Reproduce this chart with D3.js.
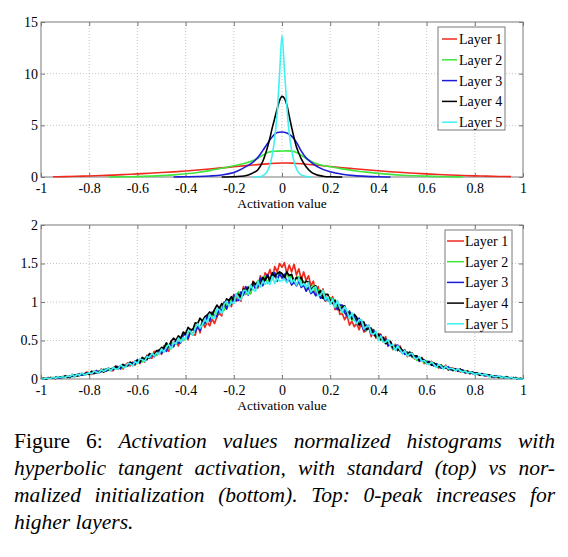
<!DOCTYPE html>
<html>
<head>
<meta charset="utf-8">
<script src="https://cdn.jsdelivr.net/npm/d3@7"></script>
<style>
  html, body { margin: 0; padding: 0; background: #fff; }
  #chart { position: absolute; left: 0; top: 0; }
  .grid { stroke: #b8b8b8; stroke-width: 0.8; stroke-dasharray: 1,2; }
  .axis text, .legend text { font-family: "Liberation Serif", "Times New Roman", Times, serif; font-size: 14px; fill: #000; }
  .label { font-family: "Liberation Serif", "Times New Roman", Times, serif; font-size: 13.5px; fill: #000; }
  .axis line { stroke: #777; }
  #caption { position: absolute; left: 14px; top: 428px; width: 541px;
    font-family: "Liberation Serif", "Times New Roman", Times, serif; font-size: 21.5px; color: #000; }
  #caption div { line-height: 27px; height: 27px; text-align: justify; text-align-last: justify; }
  #caption div.last { text-align-last: left; }
</style>
</head>
<body>
<svg id="chart" width="568" height="425"></svg>
<div id="caption"></div>
<script>
const xTicks = [-1, -0.8, -0.6, -0.4, -0.2, 0, 0.2, 0.4, 0.6, 0.8, 1];
const topYTicks = [0, 5, 10, 15];
const bottomYTicks = [0, 0.5, 1, 1.5, 2];
const layerNames = ["Layer 1", "Layer 2", "Layer 3", "Layer 4", "Layer 5"];
const layerColors = ["#ee2a1e", "#3ee63e", "#1c1cd6", "#000000", "#3ff2f2"];

// top: standard initialization, [activation, density]
const topLayer1 = [[-0.95,0.02],[-0.9,0.04],[-0.85,0.07],[-0.8,0.1],[-0.75,0.14],[-0.7,0.18],[-0.65,0.24],[-0.6,0.3],
  [-0.55,0.36],[-0.5,0.43],[-0.45,0.5],[-0.4,0.58],[-0.35,0.67],[-0.3,0.77],[-0.25,0.88],[-0.2,0.99],[-0.15,1.1],
  [-0.1,1.2],[-0.05,1.29],[-0.025,1.33],[0,1.35],[0.025,1.36],[0.05,1.33],[0.1,1.24],[0.15,1.13],[0.2,1.02],[0.25,0.9],
  [0.3,0.8],[0.35,0.7],[0.4,0.6],[0.45,0.51],[0.5,0.43],[0.55,0.36],[0.6,0.3],[0.65,0.24],[0.7,0.19],[0.75,0.15],
  [0.8,0.11],[0.85,0.08],[0.9,0.05],[0.95,0.04]];
const topLayer2 = [[-0.72,0],[-0.65,0.02],[-0.6,0.04],[-0.55,0.08],[-0.5,0.13],[-0.45,0.21],[-0.4,0.31],[-0.35,0.44],
  [-0.3,0.62],[-0.25,0.84],[-0.2,1.08],[-0.15,1.36],[-0.12,1.6],[-0.1,1.82],[-0.08,2.1],[-0.06,2.37],[-0.04,2.48],
  [-0.02,2.5],[0,2.52],[0.02,2.53],[0.04,2.5],[0.06,2.38],[0.08,2.1],[0.1,1.8],[0.12,1.52],[0.15,1.24],[0.2,0.99],
  [0.25,0.79],[0.3,0.61],[0.35,0.47],[0.4,0.35],[0.45,0.25],[0.5,0.17],[0.55,0.12],[0.6,0.08],[0.65,0.05],[0.7,0.02],[0.75,0]];
const topLayer3 = [[-0.45,0],[-0.4,0.02],[-0.35,0.05],[-0.3,0.1],[-0.25,0.2],[-0.2,0.43],[-0.15,1.0],[-0.12,1.45],
  [-0.1,1.9],[-0.08,2.55],[-0.06,3.25],[-0.04,3.9],[-0.02,4.3],[0,4.35],[0.02,4.25],[0.04,3.95],[0.06,3.35],[0.08,2.5],
  [0.1,1.85],[0.12,1.45],[0.15,0.95],[0.2,0.5],[0.25,0.26],[0.3,0.13],[0.35,0.06],[0.4,0.02],[0.45,0]];
const topLayer4 = [[-0.25,0],[-0.2,0.02],[-0.17,0.07],[-0.14,0.2],[-0.12,0.4],[-0.1,0.7],[-0.08,1.5],[-0.06,2.9],
  [-0.05,3.8],[-0.04,4.8],[-0.03,5.7],[-0.02,6.6],[-0.01,7.4],[0,7.8],[0.01,7.6],[0.02,7.0],[0.03,5.9],[0.04,4.8],
  [0.05,3.8],[0.06,2.9],[0.07,2.3],[0.08,1.75],[0.1,1.0],[0.12,0.5],[0.14,0.25],[0.17,0.08],[0.2,0.02],[0.25,0]];
const topLayer5 = [[-0.12,0],[-0.1,0.02],[-0.08,0.1],[-0.07,0.3],[-0.06,0.6],[-0.05,1.2],[-0.04,2.2],[-0.03,3.8],
  [-0.02,6.2],[-0.01,10.0],[0,13.7],[0.01,10.4],[0.02,6.9],[0.03,4.2],[0.04,2.6],[0.05,1.5],[0.06,0.8],[0.07,0.4],
  [0.08,0.2],[0.1,0.05],[0.12,0]];

// bottom: normalized initialization, one value per bin of 0.01 from -1 to 1 (201 bins)
const bins = d3.range(201).map(i => -1 + i * 0.01);
const bottomLayer1 = [
  0.00,0.01,0.00,0.02,0.01,0.02,0.00,0.03,0.02,0.03,
  0.02,0.04,0.02,0.06,0.04,0.04,0.07,0.05,0.07,0.09,
  0.08,0.06,0.10,0.09,0.08,0.13,0.09,0.12,0.14,0.11,
  0.11,0.17,0.14,0.17,0.13,0.18,0.21,0.17,0.22,0.18,
  0.25,0.20,0.27,0.22,0.31,0.28,0.27,0.36,0.31,0.38,
  0.32,0.43,0.38,0.36,0.49,0.42,0.51,0.43,0.53,0.58,
  0.61,0.51,0.63,0.58,0.57,0.72,0.60,0.74,0.67,0.74,
  0.69,0.78,0.72,0.81,0.86,0.82,0.98,0.91,1.01,0.94,
  1.10,1.01,1.13,1.01,1.20,1.10,1.20,1.11,1.27,1.23,
  1.18,1.34,1.24,1.38,1.33,1.42,1.30,1.46,1.39,1.50,
  1.45,
  1.51,1.37,1.48,1.39,1.49,1.35,1.43,1.29,1.39,1.28,
  1.34,1.21,1.27,1.11,1.20,1.06,1.17,1.01,1.09,1.00,
  1.07,0.90,0.99,0.84,0.85,0.77,0.83,0.70,0.75,0.68,
  0.72,0.64,0.74,0.61,0.63,0.70,0.55,0.63,0.53,0.59,
  0.58,0.48,0.55,0.43,0.48,0.38,0.45,0.38,0.43,0.33,
  0.38,0.29,0.34,0.34,0.26,0.29,0.24,0.28,0.20,0.23,
  0.19,0.23,0.18,0.20,0.14,0.18,0.14,0.18,0.12,0.14,
  0.14,0.11,0.13,0.09,0.11,0.08,0.11,0.07,0.09,0.06,
  0.08,0.05,0.07,0.05,0.04,0.05,0.03,0.04,0.03,0.02,
  0.03,0.02,0.03,0.01,0.02,0.01,0.01,0.00,0.00,0.00];
const bottomLayer2 = [
  0.00,0.01,0.00,0.01,0.02,0.01,0.01,0.03,0.02,0.02,
  0.02,0.03,0.04,0.03,0.05,0.05,0.04,0.07,0.06,0.06,
  0.07,0.10,0.07,0.10,0.09,0.09,0.13,0.11,0.11,0.13,
  0.15,0.13,0.15,0.17,0.14,0.18,0.17,0.21,0.20,0.19,
  0.21,0.25,0.22,0.27,0.29,0.27,0.33,0.31,0.31,0.38,
  0.38,0.35,0.44,0.40,0.39,0.48,0.45,0.53,0.52,0.50,
  0.52,0.62,0.59,0.57,0.69,0.69,0.65,0.77,0.71,0.79,
  0.83,0.80,0.89,0.83,0.88,0.97,0.89,0.99,0.95,1.06,
  0.99,1.08,1.13,1.04,1.13,1.10,1.20,1.11,1.23,1.22,
  1.28,1.21,1.28,1.34,1.24,1.33,1.29,1.37,1.30,1.39,
  1.35,
  1.29,1.38,1.29,1.35,1.24,1.32,1.33,1.23,1.27,1.18,
  1.25,1.16,1.22,1.13,1.16,1.06,1.15,1.06,1.01,1.06,
  0.99,1.03,0.92,0.97,0.86,0.91,0.84,0.88,0.76,0.81,
  0.80,0.71,0.77,0.67,0.63,0.68,0.61,0.64,0.55,0.53,
  0.50,0.54,0.47,0.51,0.44,0.39,0.44,0.38,0.40,0.33,
  0.37,0.32,0.35,0.28,0.30,0.24,0.28,0.24,0.21,0.24,
  0.20,0.22,0.18,0.19,0.15,0.18,0.15,0.14,0.15,0.12,
  0.13,0.11,0.12,0.10,0.10,0.11,0.08,0.08,0.09,0.06,
  0.07,0.07,0.05,0.05,0.06,0.03,0.04,0.04,0.02,0.03,
  0.03,0.02,0.02,0.02,0.01,0.01,0.01,0.01,0.00,0.00];
const bottomLayer3 = [
  0.00,0.00,0.01,0.01,0.01,0.01,0.02,0.02,0.01,0.03,
  0.03,0.02,0.04,0.04,0.03,0.06,0.06,0.05,0.06,0.08,
  0.08,0.08,0.07,0.11,0.08,0.10,0.12,0.10,0.14,0.12,
  0.12,0.16,0.16,0.13,0.18,0.17,0.17,0.21,0.21,0.19,
  0.25,0.21,0.26,0.25,0.30,0.27,0.32,0.29,0.34,0.37,
  0.33,0.40,0.36,0.44,0.44,0.42,0.51,0.47,0.47,0.56,
  0.59,0.53,0.62,0.65,0.61,0.68,0.63,0.75,0.72,0.82,
  0.75,0.87,0.82,0.81,0.92,0.88,1.00,0.91,1.00,0.97,
  1.09,1.02,1.02,1.13,1.09,1.20,1.09,1.19,1.24,1.17,
  1.20,1.31,1.21,1.30,1.36,1.26,1.34,1.38,1.27,1.37,
  1.31,
  1.36,1.26,1.30,1.22,1.26,1.21,1.27,1.19,1.22,1.14,
  1.19,1.11,1.14,1.08,1.13,1.05,1.06,1.02,1.06,0.98,
  1.04,0.94,0.90,0.96,0.96,0.86,0.82,0.88,0.80,0.82,
  0.74,0.79,0.70,0.63,0.70,0.67,0.58,0.64,0.55,0.57,
  0.57,0.49,0.52,0.43,0.46,0.40,0.43,0.44,0.36,0.36,
  0.32,0.35,0.30,0.33,0.28,0.29,0.23,0.26,0.25,0.21,
  0.23,0.19,0.17,0.20,0.18,0.14,0.16,0.14,0.16,0.12,
  0.12,0.13,0.10,0.12,0.12,0.08,0.09,0.09,0.07,0.08,
  0.06,0.06,0.07,0.04,0.05,0.05,0.04,0.02,0.04,0.03,
  0.03,0.02,0.02,0.02,0.01,0.01,0.02,0.00,0.00,0.00];
const bottomLayer4 = [
  0.00,0.01,0.00,0.01,0.02,0.01,0.02,0.02,0.03,0.02,
  0.04,0.03,0.02,0.05,0.05,0.04,0.05,0.07,0.05,0.08,
  0.06,0.10,0.08,0.08,0.10,0.11,0.09,0.13,0.12,0.13,
  0.14,0.16,0.13,0.16,0.19,0.16,0.18,0.22,0.18,0.23,
  0.24,0.22,0.28,0.26,0.25,0.33,0.31,0.31,0.37,0.37,
  0.41,0.40,0.47,0.42,0.49,0.53,0.50,0.56,0.53,0.61,
  0.58,0.67,0.64,0.64,0.73,0.72,0.79,0.75,0.81,0.83,
  0.87,0.84,0.90,0.96,0.92,0.98,0.95,1.04,1.02,1.07,
  1.01,1.10,1.10,1.06,1.17,1.14,1.19,1.16,1.26,1.23,
  1.26,1.22,1.32,1.28,1.34,1.28,1.38,1.33,1.37,1.39,
  1.37,
  1.32,1.39,1.34,1.36,1.26,1.32,1.29,1.32,1.23,1.27,
  1.26,1.16,1.19,1.21,1.11,1.15,1.05,1.10,1.10,1.02,
  0.98,1.02,0.97,0.89,0.94,0.95,0.85,0.86,0.78,0.84,
  0.80,0.70,0.74,0.74,0.64,0.66,0.66,0.58,0.55,0.58,
  0.51,0.54,0.46,0.48,0.49,0.41,0.43,0.37,0.41,0.37,
  0.37,0.31,0.35,0.29,0.30,0.30,0.24,0.27,0.23,0.20,
  0.22,0.18,0.21,0.18,0.16,0.18,0.14,0.16,0.12,0.14,
  0.11,0.13,0.11,0.13,0.09,0.09,0.10,0.07,0.09,0.07,
  0.08,0.05,0.06,0.06,0.05,0.05,0.03,0.04,0.03,0.02,
  0.02,0.02,0.03,0.01,0.01,0.02,0.01,0.00,0.01,0.00];
const bottomLayer5 = [
  0.00,0.00,0.01,0.01,0.01,0.02,0.01,0.03,0.02,0.03,
  0.02,0.04,0.03,0.06,0.03,0.06,0.05,0.08,0.05,0.07,
  0.08,0.07,0.10,0.09,0.08,0.12,0.10,0.12,0.14,0.11,
  0.15,0.13,0.13,0.18,0.16,0.15,0.20,0.20,0.17,0.23,
  0.20,0.26,0.25,0.23,0.29,0.28,0.33,0.30,0.34,0.32,
  0.39,0.35,0.41,0.45,0.39,0.47,0.46,0.53,0.48,0.54,
  0.51,0.62,0.62,0.57,0.66,0.72,0.66,0.71,0.78,0.73,
  0.84,0.79,0.79,0.91,0.90,0.85,0.97,1.01,0.94,1.00,
  0.98,1.11,1.05,1.03,1.15,1.15,1.10,1.22,1.16,1.14,
  1.27,1.19,1.27,1.23,1.26,1.23,1.33,1.24,1.31,1.27,
  1.28,
  1.30,1.25,1.32,1.25,1.29,1.22,1.31,1.21,1.24,1.19,
  1.25,1.13,1.18,1.20,1.08,1.09,1.15,1.03,1.07,0.97,
  1.04,0.93,1.02,0.92,0.87,0.94,0.88,0.78,0.86,0.76,
  0.72,0.77,0.76,0.65,0.68,0.70,0.59,0.58,0.62,0.50,
  0.56,0.48,0.48,0.51,0.43,0.45,0.37,0.43,0.38,0.33,
  0.37,0.30,0.33,0.33,0.27,0.26,0.29,0.23,0.24,0.20,
  0.19,0.22,0.19,0.15,0.19,0.17,0.13,0.17,0.13,0.14,
  0.13,0.11,0.13,0.11,0.09,0.10,0.08,0.09,0.08,0.06,
  0.07,0.07,0.05,0.06,0.05,0.03,0.05,0.03,0.03,0.04,
  0.02,0.03,0.02,0.01,0.02,0.01,0.01,0.00,0.00,0.00];

const captionLines = [
  ["Figure 6:", " Activation values normalized histograms with"],
  ["", "hyperbolic tangent activation, with standard (top) vs nor-"],
  ["", "malized initialization (bottom). Top: 0-peak increases for"],
  ["", "higher layers."]
];

const svg = d3.select("#chart");

function drawPanel(cfg) {
  const { left, top, width, height, yMax, yTicks, layers, curve, legend } = cfg;
  const x = d3.scaleLinear().domain([-1, 1]).range([0, width]);
  const y = d3.scaleLinear().domain([0, yMax]).range([height, 0]);
  const g = svg.append("g").attr("transform", `translate(${left},${top})`);

  // dotted grid
  g.append("g").selectAll("line").data(xTicks.slice(1, -1)).join("line")
    .attr("class", "grid")
    .attr("x1", d => x(d)).attr("x2", d => x(d))
    .attr("y1", 0).attr("y2", height);
  g.append("g").selectAll("line").data(yTicks.slice(1, -1)).join("line")
    .attr("class", "grid")
    .attr("x1", 0).attr("x2", width)
    .attr("y1", d => y(d)).attr("y2", d => y(d));

  // axes, ticks pointing inward like matlab
  const fmt = d => String(d);
  const clean = a => a.select(".domain").remove();
  g.append("g").attr("class", "axis").attr("transform", `translate(0,${height})`)
    .call(d3.axisBottom(x).tickValues(xTicks).tickFormat(fmt).tickSizeInner(-4).tickSizeOuter(0).tickPadding(6))
    .call(clean);
  g.append("g").attr("class", "axis")
    .call(d3.axisTop(x).tickValues(xTicks).tickFormat("").tickSizeInner(-4).tickSizeOuter(0))
    .call(clean);
  g.append("g").attr("class", "axis")
    .call(d3.axisLeft(y).tickValues(yTicks).tickFormat(fmt).tickSizeInner(-4).tickSizeOuter(0).tickPadding(3))
    .call(clean);
  g.append("g").attr("class", "axis").attr("transform", `translate(${width},0)`)
    .call(d3.axisRight(y).tickValues(yTicks).tickFormat("").tickSizeInner(-4).tickSizeOuter(0))
    .call(clean);

  g.append("rect")
    .attr("width", width).attr("height", height)
    .attr("fill", "none").attr("stroke", "#7a7a7a").attr("stroke-width", 1);

  const line = d3.line().x(d => x(d[0])).y(d => y(d[1])).curve(curve);
  g.append("g").selectAll("path").data(layers).join("path")
    .attr("d", d => line(d))
    .attr("fill", "none")
    .attr("stroke", (d, i) => layerColors[i])
    .attr("stroke-width", cfg.lineWidth)
    .attr("stroke-linejoin", "round");

  g.append("text").attr("class", "label")
    .attr("x", width / 2).attr("y", height + cfg.labelGap)
    .attr("text-anchor", "middle")
    .text("Activation value");

  // legend
  const lg = svg.append("g").attr("class", "legend")
    .attr("transform", `translate(${legend.x},${legend.y})`);
  lg.append("rect")
    .attr("width", legend.w).attr("height", legend.h)
    .attr("fill", "#fff").attr("stroke", "#7a7a7a");
  const item = lg.selectAll("g.item").data(layerNames).join("g")
    .attr("class", "item")
    .attr("transform", (d, i) => `translate(0,${legend.first + i * legend.step})`);
  item.append("line")
    .attr("x1", legend.line0).attr("x2", legend.line1)
    .attr("stroke", (d, i) => layerColors[i]).attr("stroke-width", 1.5);
  item.append("text")
    .attr("x", legend.textX).attr("dy", "0.35em")
    .text(d => d);
}

drawPanel({
  left: 41, top: 22, width: 482, height: 155,
  yMax: 15, yTicks: topYTicks,
  layers: [topLayer1, topLayer2, topLayer3, topLayer4, topLayer5],
  curve: d3.curveMonotoneX, lineWidth: 1.6,
  labelGap: 31,
  legend: { x: 438, y: 27, w: 67, h: 103, first: 12, step: 20.8, line0: 4, line1: 19, textX: 21 }
});

drawPanel({
  left: 41, top: 225, width: 482, height: 154,
  yMax: 2, yTicks: bottomYTicks,
  layers: [bottomLayer1, bottomLayer2, bottomLayer3, bottomLayer4, bottomLayer5]
    .map(vals => vals.map((v, i) => [bins[i], v])),
  curve: d3.curveLinear, lineWidth: 1.7,
  labelGap: 31,
  legend: { x: 445, y: 230, w: 67, h: 102, first: 11, step: 20.7, line0: 2, line1: 19, textX: 20 }
});

// caption, justified like the paper
const cap = d3.select("#caption").selectAll("div").data(captionLines).join("div")
  .classed("last", (d, i) => i === captionLines.length - 1);
cap.append("span").text(d => d[0]);
cap.append("i").text(d => d[1]);
</script>
</body>
</html>
